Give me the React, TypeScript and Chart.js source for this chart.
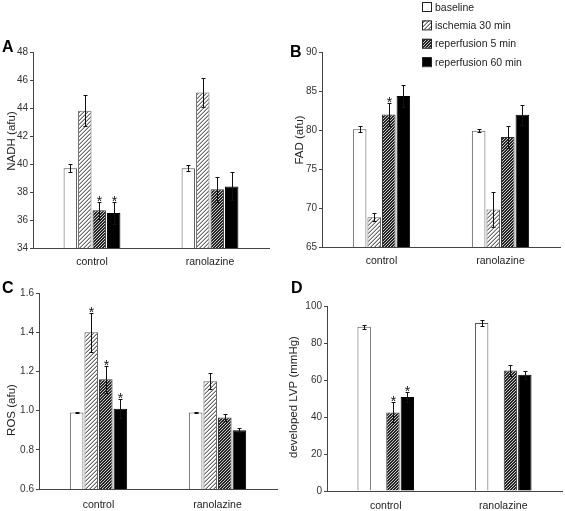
import React, { useEffect, useRef } from 'react';
import { Chart, registerables } from 'chart.js';

Chart.register(...registerables);

const FONT = "'Liberation Sans', Arial, Helvetica, sans-serif";

const categories = ['control', 'ranolazine'];
const seriesNames = ['baseline', 'ischemia 30 min', 'reperfusion 5 min', 'reperfusion 60 min'];

// Panel A: NADH (afu)
const nadhBaseline = [39.7, 39.7];
const nadhIschemia = [43.8, 45.1];
const nadhRep5 = [36.7, 38.2];
const nadhRep60 = [36.5, 38.4];
const nadhErrBaseline = [0.3, 0.2];
const nadhErrIschemia = [1.1, 1.05];
const nadhErrRep5 = [0.6, 0.9];
const nadhErrRep60 = [0.8, 1.0];
const nadhStars = [[0, 0], [0, 0], [1, 0], [1, 0]];
const nadhTicks = { min: 34, max: 48, step: 2 };

// Panel B: FAD (afu)
const fadBaseline = [80.1, 79.9];
const fadIschemia = [68.8, 69.8];
const fadRep5 = [82.0, 79.1];
const fadRep60 = [84.35, 81.95];
const fadErrBaseline = [0.4, 0.2];
const fadErrIschemia = [0.5, 2.2];
const fadErrRep5 = [1.45, 1.4];
const fadErrRep60 = [1.45, 1.3];
const fadStars = [[0, 0], [0, 0], [1, 0], [0, 0]];
const fadTicks = { min: 65, max: 90, step: 5 };

// Panel C: ROS (afu)
const rosBaseline = [0.99, 0.99];
const rosIschemia = [1.40, 1.15];
const rosRep5 = [1.16, 0.965];
const rosRep60 = [1.01, 0.90];
const rosErrBaseline = [0.004, 0.003];
const rosErrIschemia = [0.10, 0.04];
const rosErrRep5 = [0.07, 0.018];
const rosErrRep60 = [0.05, 0.01];
const rosStars = [[0, 0], [1, 0], [1, 0], [1, 0]];
const rosTicks = { min: 0.6, max: 1.6, step: 0.2 };

// Panel D: developed LVP (mmHg)
const lvpBaseline = [88.8, 90.8];
const lvpIschemia = [0.4, 0];
const lvpRep5 = [42.5, 65.2];
const lvpRep60 = [50.8, 62.9];
const lvpErrBaseline = [1.0, 1.8];
const lvpErrIschemia = [0, 0];
const lvpErrRep5 = [5.4, 3.0];
const lvpErrRep60 = [2.5, 2.2];
const lvpStars = [[0, 0], [0, 0], [1, 0], [1, 0]];
const lvpTicks = { min: 0, max: 100, step: 20 };

function makePattern(kind: 'light' | 'dark'): CanvasPattern | string {
  const n = kind === 'light' ? 4 : 3;
  const c = document.createElement('canvas');
  c.width = n;
  c.height = n;
  const ctx = c.getContext('2d');
  if (!ctx) return kind === 'light' ? '#ccc' : '#555';
  const img = ctx.createImageData(n, n);
  for (let y = 0; y < n; y++) {
    for (let x = 0; x < n; x++) {
      let v: number;
      if (kind === 'light') {
        const k = (x + y) % 4;
        v = k === 3 ? 105 : k === 2 ? 185 : 255;
      } else {
        const k = (x + y) % 3;
        v = k === 0 ? 205 : 35;
      }
      const i = (y * n + x) * 4;
      img.data[i] = v;
      img.data[i + 1] = v;
      img.data[i + 2] = v;
      img.data[i + 3] = 255;
    }
  }
  ctx.putImageData(img, 0, 0);
  const p = ctx.createPattern(c, 'repeat');
  return p || (kind === 'light' ? '#ccc' : '#555');
}

const errorBarsPlugin = {
  id: 'errorBars',
  afterDatasetsDraw(chart: any, _args: any, opts: any) {
    const { ctx } = chart;
    const yScale = chart.scales.y;
    const errors: number[][] = opts.errors || [];
    const stars: number[][] = opts.stars || [];
    ctx.save();
    chart.data.datasets.forEach((ds: any, di: number) => {
      const meta = chart.getDatasetMeta(di);
      meta.data.forEach((bar: any, i: number) => {
        const v = ds.data[i];
        const e = (errors[di] || [])[i] || 0;
        const x = Math.round(bar.x) + 0.5;
        const yTop = yScale.getPixelForValue(v + e);
        if (e > 0) {
          const yBot = yScale.getPixelForValue(v - e);
          ctx.strokeStyle = '#111';
          ctx.lineWidth = 1;
          ctx.beginPath();
          ctx.moveTo(x, Math.round(yTop) + 0.5);
          ctx.lineTo(x, Math.round(yBot) + 0.5);
          ctx.moveTo(x - 2, Math.round(yTop) + 0.5);
          ctx.lineTo(x + 2, Math.round(yTop) + 0.5);
          ctx.moveTo(x - 2, Math.round(yBot) + 0.5);
          ctx.lineTo(x + 2, Math.round(yBot) + 0.5);
          ctx.stroke();
        }
        if ((stars[di] || [])[i]) {
          ctx.fillStyle = '#111';
          ctx.font = `14px ${FONT}`;
          ctx.textAlign = 'center';
          ctx.textBaseline = 'alphabetic';
          ctx.fillText('*', x, yTop + 4);
        }
      });
    });
    ctx.restore();
  },
};

const decorPlugin = {
  id: 'decor',
  afterDraw(chart: any, _args: any, opts: any) {
    const { ctx } = chart;
    ctx.save();
    // y-axis title
    ctx.save();
    ctx.translate(opts.titleX, opts.titleY);
    ctx.rotate(-Math.PI / 2);
    ctx.fillStyle = '#222';
    ctx.font = `11.5px ${FONT}`;
    ctx.textAlign = 'center';
    ctx.textBaseline = 'middle';
    ctx.fillText(opts.title, 0, 0);
    ctx.restore();
    // panel letter
    ctx.fillStyle = '#000';
    ctx.font = `bold 16px ${FONT}`;
    ctx.textAlign = 'left';
    ctx.textBaseline = 'alphabetic';
    ctx.fillText(opts.letter, opts.letterX, opts.letterY);
    // legend
    if (opts.legend) {
      const lg = opts.legend;
      chart.data.datasets.forEach((ds: any, i: number) => {
        const top = lg.y + i * lg.gap;
        ctx.fillStyle = ds.backgroundColor;
        ctx.fillRect(lg.x, top, 9, 9);
        ctx.strokeStyle = '#222';
        ctx.lineWidth = 1;
        ctx.strokeRect(lg.x + 0.5, top + 0.5, 9, 9);
        ctx.fillStyle = '#222';
        ctx.font = `10.5px ${FONT}`;
        ctx.textAlign = 'left';
        ctx.textBaseline = 'alphabetic';
        ctx.fillText(ds.label, lg.x + 13, top + 8.5);
      });
    }
    ctx.restore();
  },
};

interface PanelDef {
  left: number;
  top: number;
  width: number;
  height: number;
  padTop: number;
  padRight: number;
  yWidth: number;
  xHeight: number;
  xPad: number;
  ticks: { min: number; max: number; step: number };
  decimals: number;
  values: number[][];
  errors: number[][];
  stars: number[][];
  title: string;
  titleX: number;
  titleY: number;
  letter: string;
  letterX: number;
  letterY: number;
  legend?: { x: number; y: number; gap: number };
}

function Panel({ def }: { def: PanelDef }) {
  const ref = useRef<HTMLCanvasElement | null>(null);
  useEffect(() => {
    if (!ref.current) return;
    const light = makePattern('light');
    const dark = makePattern('dark');
    const fills = ['#ffffff', light, dark, '#000000'];
    const borders = ['#555', '#666', '#333', '#000'];
    const chart = new Chart(ref.current, {
      type: 'bar',
      data: {
        labels: categories,
        datasets: seriesNames.map((name, i) => ({
          label: name,
          data: def.values[i],
          backgroundColor: fills[i] as any,
          borderColor: borders[i],
          borderWidth: 1,
          categoryPercentage: 0.49,
          barPercentage: 0.93,
        })),
      },
      options: {
        responsive: false,
        animation: false,
        devicePixelRatio: 1,
        layout: { padding: { top: def.padTop, right: def.padRight, left: 0, bottom: 0 } },
        plugins: {
          legend: { display: false },
          tooltip: { enabled: false },
          errorBars: { errors: def.errors, stars: def.stars },
          decor: {
            title: def.title,
            titleX: def.titleX,
            titleY: def.titleY,
            letter: def.letter,
            letterX: def.letterX,
            letterY: def.letterY,
            legend: def.legend,
          },
        } as any,
        scales: {
          x: {
            type: 'category',
            grid: { display: false, drawTicks: false },
            border: { display: true, color: '#444', width: 1 },
            ticks: {
              color: '#222',
              font: { family: FONT, size: 10.5 },
              padding: def.xPad,
            },
            afterFit: (s: any) => {
              s.height = def.xHeight;
            },
          },
          y: {
            min: def.ticks.min,
            max: def.ticks.max,
            grid: {
              display: true,
              drawOnChartArea: false,
              drawTicks: true,
              tickLength: 3,
              color: '#444',
            },
            border: { display: true, color: '#444', width: 1 },
            ticks: {
              stepSize: def.ticks.step,
              color: '#333',
              padding: 2,
              font: { family: FONT, size: 10 },
              callback: (v: any) => Number(v).toFixed(def.decimals),
            },
            afterFit: (s: any) => {
              s.width = def.yWidth;
            },
          },
        },
      },
      plugins: [errorBarsPlugin, decorPlugin],
    } as any);
    return () => chart.destroy();
  }, [def]);
  return (
    <canvas
      ref={ref}
      width={def.width}
      height={def.height}
      style={{
        position: 'absolute',
        left: def.left,
        top: def.top,
        width: def.width,
        height: def.height,
      }}
    />
  );
}

const panels: PanelDef[] = [
  {
    left: 0, top: 0, width: 282, height: 275,
    padTop: 52, padRight: 13, yWidth: 33, xHeight: 27, xPad: 8,
    ticks: nadhTicks, decimals: 0,
    values: [nadhBaseline, nadhIschemia, nadhRep5, nadhRep60],
    errors: [nadhErrBaseline, nadhErrIschemia, nadhErrRep5, nadhErrRep60],
    stars: nadhStars,
    title: 'NADH (afu)', titleX: 12, titleY: 141,
    letter: 'A', letterX: 2, letterY: 52,
  },
  {
    left: 282, top: 0, width: 283, height: 275,
    padTop: 52, padRight: 5, yWidth: 40, xHeight: 28, xPad: 8,
    ticks: fadTicks, decimals: 0,
    values: [fadBaseline, fadIschemia, fadRep5, fadRep60],
    errors: [fadErrBaseline, fadErrIschemia, fadErrRep5, fadErrRep60],
    stars: fadStars,
    title: 'FAD (afu)', titleX: 18, titleY: 140,
    letter: 'B', letterX: 8, letterY: 57,
    legend: { x: 140, y: 2, gap: 18.4 },
  },
  {
    left: 0, top: 275, width: 282, height: 236,
    padTop: 18, padRight: 5, yWidth: 39, xHeight: 22, xPad: 10,
    ticks: rosTicks, decimals: 1,
    values: [rosBaseline, rosIschemia, rosRep5, rosRep60],
    errors: [rosErrBaseline, rosErrIschemia, rosErrRep5, rosErrRep60],
    stars: rosStars,
    title: 'ROS (afu)', titleX: 12, titleY: 135,
    letter: 'C', letterX: 2, letterY: 18,
  },
  {
    left: 282, top: 275, width: 283, height: 236,
    padTop: 31, padRight: 3, yWidth: 45, xHeight: 20, xPad: 9,
    ticks: lvpTicks, decimals: 0,
    values: [lvpBaseline, lvpIschemia, lvpRep5, lvpRep60],
    errors: [lvpErrBaseline, lvpErrIschemia, lvpErrRep5, lvpErrRep60],
    stars: lvpStars,
    title: 'developed LVP (mmHg)', titleX: 12, titleY: 122,
    letter: 'D', letterX: 9, letterY: 18,
  },
];

export default function App() {
  return (
    <div
      style={{
        position: 'absolute',
        left: 0,
        top: 0,
        width: 565,
        height: 511,
        background: '#fff',
        overflow: 'hidden',
      }}
    >
      {panels.map((p, i) => (
        <Panel key={i} def={p} />
      ))}
    </div>
  );
}
